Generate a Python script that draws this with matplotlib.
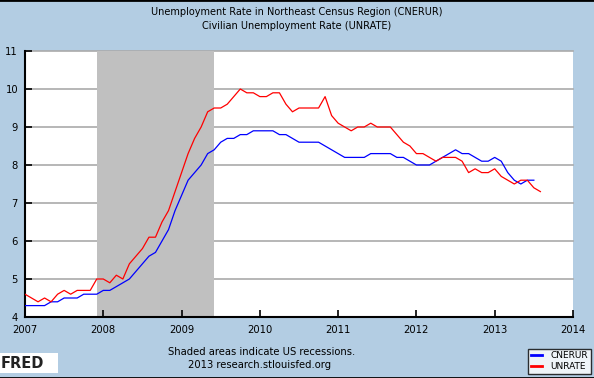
import matplotlib.pyplot as plt
import numpy as np

# monthly values, Jan 2007 onwards
unrate = [4.6, 4.5, 4.4, 4.5, 4.4, 4.6, 4.7, 4.6, 4.7, 4.7, 4.7, 5.0,
          5.0, 4.9, 5.1, 5.0, 5.4, 5.6, 5.8, 6.1, 6.1, 6.5, 6.8, 7.3,
          7.8, 8.3, 8.7, 9.0, 9.4, 9.5, 9.5, 9.6, 9.8, 10.0, 9.9, 9.9,
          9.8, 9.8, 9.9, 9.9, 9.6, 9.4, 9.5, 9.5, 9.5, 9.5, 9.8, 9.3,
          9.1, 9.0, 8.9, 9.0, 9.0, 9.1, 9.0, 9.0, 9.0, 8.8, 8.6, 8.5,
          8.3, 8.3, 8.2, 8.1, 8.2, 8.2, 8.2, 8.1, 7.8, 7.9, 7.8, 7.8,
          7.9, 7.7, 7.6, 7.5, 7.6, 7.6, 7.4, 7.3]
cnerur = [4.3, 4.3, 4.3, 4.3, 4.4, 4.4, 4.5, 4.5, 4.5, 4.6, 4.6, 4.6,
          4.7, 4.7, 4.8, 4.9, 5.0, 5.2, 5.4, 5.6, 5.7, 6.0, 6.3, 6.8,
          7.2, 7.6, 7.8, 8.0, 8.3, 8.4, 8.6, 8.7, 8.7, 8.8, 8.8, 8.9,
          8.9, 8.9, 8.9, 8.8, 8.8, 8.7, 8.6, 8.6, 8.6, 8.6, 8.5, 8.4,
          8.3, 8.2, 8.2, 8.2, 8.2, 8.3, 8.3, 8.3, 8.3, 8.2, 8.2, 8.1,
          8.0, 8.0, 8.0, 8.1, 8.2, 8.3, 8.4, 8.3, 8.3, 8.2, 8.1, 8.1,
          8.2, 8.1, 7.8, 7.6, 7.5, 7.6, 7.6]
recession = (2007 + 11/12, 2009 + 5/12)
years = list(range(2007, 2015))
yticks = list(range(4, 12))

bg = '#b3cde3'
fig = plt.figure(figsize=(5.94, 3.78), dpi=100, facecolor=bg)
ax = fig.add_axes([25/594, 1 - 317/378, 548/594, 266/378])
ax.set_facecolor('white')

x_u = 2007 + np.arange(len(unrate)) / 12
x_c = 2007 + np.arange(len(cnerur)) / 12

ax.axvspan(recession[0], recession[1], color='#c0c0c0', lw=0, zorder=1)
for v in yticks[1:]:
    ax.axhline(v, color='#aaaaaa', lw=1.2, zorder=0.5, clip_on=False)
ax.plot(x_c, cnerur, color='#0000ff', lw=0.9, zorder=3, label='CNERUR')
ax.plot(x_u, unrate, color='#ff0000', lw=0.9, zorder=3, label='UNRATE')

ax.set_xlim(2007, 2014)
ax.set_ylim(4, 11)
ax.set_xticks(years)
ax.set_yticks(yticks)
ax.tick_params(direction='in', length=5, width=1.2, labelsize=7.2, color='black')
ax.tick_params(axis='x', pad=6)
ax.tick_params(axis='y', pad=5)
for s in ['top', 'right']:
    ax.spines[s].set_visible(False)
for s in ['left', 'bottom']:
    ax.spines[s].set_linewidth(1.5)

fig.text(0.5, 1 - 12/378, 'Unemployment Rate in Northeast Census Region (CNERUR)',
         ha='center', va='center', fontsize=7.0)
fig.text(0.5, 1 - 26/378, 'Civilian Unemployment Rate (UNRATE)',
         ha='center', va='center', fontsize=7.0)
fig.text(262/594, 1 - 352/378, 'Shaded areas indicate US recessions.',
         ha='center', va='center', fontsize=7.2)
fig.text(260/594, 1 - 365/378, '2013 research.stlouisfed.org',
         ha='center', va='center', fontsize=7.2)

# FRED logo stub
fig.patches.append(plt.Rectangle((0, 1 - 373/378), 58/594, 20/378,
                                 transform=fig.transFigure, facecolor='white',
                                 edgecolor='none'))
fig.text(1/594, 1 - 363/378, 'FRED', ha='left', va='center', fontsize=10.5,
         fontweight='bold', color='#222222')
icon = fig.add_axes([44/594, 1 - 371/378, 12/594, 14/378])
icon.plot([0, 1, 2, 3, 4], [0.5, 1.5, 1.0, 2.2, 2.8], color='#7fa860', lw=0.8)
icon.plot([0, 1, 2, 3, 4], [0.2, 0.9, 0.6, 1.4, 2.0], color='#8899aa', lw=0.8)
icon.set_xlim(0, 4)
icon.set_ylim(0, 3)
icon.axis('off')

leg = fig.legend(loc='lower right', bbox_to_anchor=(591/594, 1 - 374/378),
                 fontsize=6.5, frameon=True, fancybox=False, handlelength=1.2,
                 borderpad=0.3, labelspacing=0.2, handletextpad=1.0,
                 borderaxespad=0)
leg.get_frame().set_edgecolor('black')
leg.get_frame().set_linewidth(1.0)
for line in leg.get_lines():
    line.set_linewidth(2)

# dark rules at top and bottom of the image
fig.add_artist(plt.Line2D([0, 1], [1, 1], color='black', lw=2, transform=fig.transFigure))
fig.add_artist(plt.Line2D([0, 1], [0, 0], color='black', lw=2, transform=fig.transFigure))

fig.savefig('out.png', dpi=100, facecolor=bg)
